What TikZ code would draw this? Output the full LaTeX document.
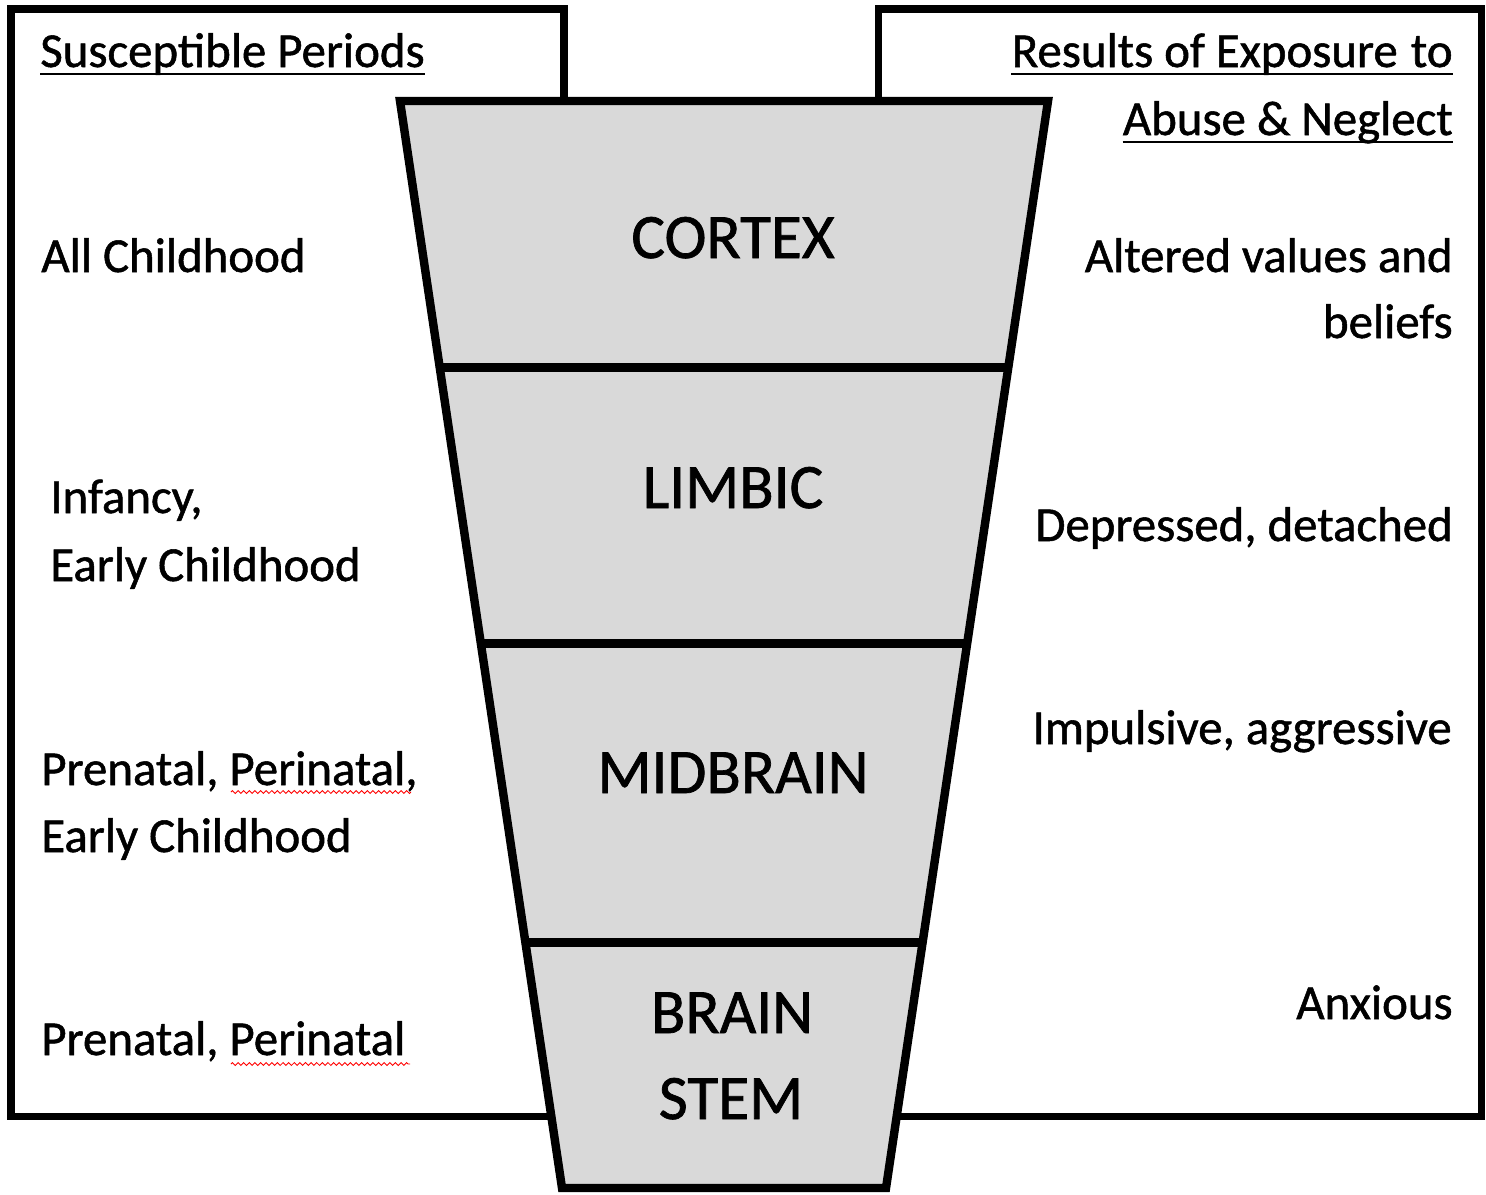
\documentclass[tikz,border=0pt]{standalone}
\usepackage{fontspec}
\setmainfont{Carlito}
\newfontfamily\heavyfont{Carlito}[FakeBold=1.1]
\usetikzlibrary{calc,decorations.pathmorphing}
\begin{document}
\begin{tikzpicture}[x=0.02cm,y=-0.02cm,
  boxline/.style={line width=4pt,line join=miter},
  trapline/.style={line width=4.8pt,line join=miter},
  divline/.style={line width=5pt},
  lbl/.style={inner sep=0pt,font=\heavyfont\fontsize{27.8}{33}\selectfont},
  lleft/.style={lbl,anchor=base west},
  lright/.style={lbl,anchor=base east},
  region/.style={inner sep=0pt,anchor=base,font=\heavyfont\fontsize{36}{43}\selectfont},
  uline/.style={line width=1.7pt},
  squig/.style={red,line width=0.5pt,decorate,decoration={zigzag,segment length=3.2pt,amplitude=0.8pt}}]
\useasboundingbox (0,0) rectangle (1486,1194);
% side boxes
\draw[boxline] (11,9) rectangle (564,1116);
\draw[boxline] (878,9) rectangle (1481,1116);
% trapezoid
\coordinate (tl) at (400,101);
\coordinate (tr) at (1048,101);
\coordinate (br) at (886,1188);
\coordinate (bl) at (562,1188);
\fill[fill={rgb,255:red,217;green,217;blue,217}] (tl) -- (tr) -- (br) -- (bl) -- cycle;
\coordinate (d1l) at ($(tl)!0.2454!(bl)$);
\coordinate (d1r) at ($(tr)!0.2454!(br)$);
\coordinate (d2l) at ($(tl)!0.4991!(bl)$);
\coordinate (d2r) at ($(tr)!0.4991!(br)$);
\coordinate (d3l) at ($(tl)!0.7739!(bl)$);
\coordinate (d3r) at ($(tr)!0.7739!(br)$);
\draw[divline] (d1l) -- (d1r);
\draw[divline] (d2l) -- (d2r);
\draw[divline] (d3l) -- (d3r);
\draw[trapline] (tl) -- (tr) -- (br) -- (bl) -- cycle;
% region labels
\node[region] (cortex) at (733,258) {CORTEX};
\node[region] (limbic) at (733,508) {LIMBIC};
\node[region] (midbrain) at (733,793) {MIDBRAIN};
\node[region] (brain) at (732,1033) {BRAIN};
\node[region] (stem) at (731,1119) {STEM};
% left headings and texts
\node[lleft] (hl) at (40,67) {Susceptible Periods};
\draw[uline] ($(hl.base west)+(0,7)$) -- ($(hl.base east)+(0,7)$);
\node[lleft] (l1) at (41,272) {All Childhood};
\node[lleft] (l2a) at (50,513) {Infancy,};
\node[lleft] (l2b) at (50,581) {Early Childhood};
\node[lleft] (l3a) at (41,785) {Prenatal, Perinatal,};
\node[lleft] (l3b) at (41,852) {Early Childhood};
\node[lleft] (l4) at (41,1055) {Prenatal, Perinatal};
\draw[squig] (231,792) -- (411,792);
\draw[squig] (231,1064) -- (410,1064);
% right headings and texts
\node[lright] (hr1) at (1453,67) {Results of Exposure\hspace{0.27em}to};
\draw[uline] ($(hr1.base west)+(0,7)$) -- ($(hr1.base east)+(0,7)$);
\node[lright] (hr2) at (1453,135) {Abuse \& Neglect};
\draw[uline] ($(hr2.base west)+(0,7)$) -- ($(hr2.base east)+(0,7)$);
\node[lright] (r1a) at (1453,272) {Altered values and};
\node[lright] (r1b) at (1453,338) {beliefs};
\node[lright] (r2) at (1453,541) {Depressed, detached};
\node[lright] (r3) at (1452,744) {Impulsive, aggressive};
\node[lright] (r4) at (1453,1019) {Anxious};
\end{tikzpicture}
\end{document}
